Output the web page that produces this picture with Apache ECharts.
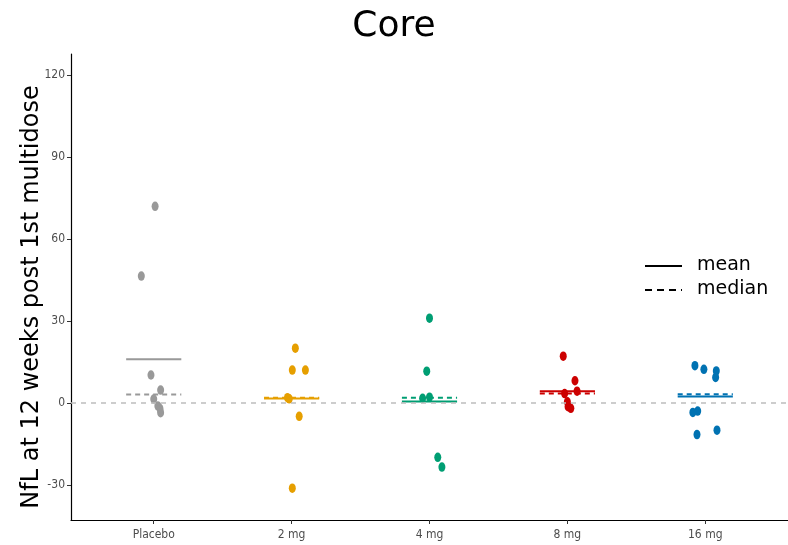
<!DOCTYPE html>
<html><head><meta charset="utf-8">
<script src="https://cdn.jsdelivr.net/npm/echarts@6/dist/echarts.min.js"></script>
<style>html,body{margin:0;padding:0;background:#fff}#c{width:788px;height:545px}</style>
</head><body><div id="c"></div>
<script>
// Dose groups and their colours
const categories = ['Placebo', '2 mg', '4 mg', '8 mg', '16 mg'];
const colors = ['#999999', '#E69F00', '#009E73', '#CC0000', '#0072B2'];

// NfL change values per group, with the horizontal jitter of each point
const placebo  = [72, 46.5, 10.3, 4.8, 1.5, -1, -2, -3.5];
const placeboX = [0.01, -0.09, -0.02, 0.05, 0.0, 0.03, 0.045, 0.05];
const mg2  = [20.1, 12.1, 12.1, 2, 1.6, -4.8, -31.1];
const mg2X = [0.027, 0.005, 0.1, -0.03, -0.017, 0.055, 0.005];
const mg4  = [31.1, 11.7, 2.2, 1.8, -19.8, -23.4];
const mg4X = [0.0, -0.02, 0.0, -0.05, 0.06, 0.09];
const mg8  = [17.2, 8.2, 4.4, 3.5, 0.5, -1.3, -1.9];
const mg8X = [-0.03, 0.055, 0.07, -0.02, 0.0, 0.005, 0.025];
const mg16  = [13.7, 12.4, 11.8, 9.4, -2.9, -3.4, -9.9, -11.5];
const mg16X = [-0.075, -0.01, 0.08, 0.075, -0.055, -0.09, 0.085, -0.06];

const yTicks = [-30, 0, 30, 60, 90, 120];

const groups = [[placebo, placeboX], [mg2, mg2X], [mg4, mg4X], [mg8, mg8X], [mg16, mg16X]];

function mean(a) { return a.reduce((s, v) => s + v, 0) / a.length; }
function median(a) {
  const s = a.slice().sort((p, q) => p - q);
  const m = Math.floor(s.length / 2);
  return s.length % 2 ? s[m] : (s[m - 1] + s[m]) / 2;
}

const summary = groups.map((g, i) => [i, mean(g[0]), median(g[0])]);

const labelFont = {
  fontFamily: "'Liberation Sans Narrow', 'DejaVu Sans Condensed', 'Liberation Sans', sans-serif",
  fontSize: 12, color: '#4D4D4D'
};

const series = [{
  type: 'custom',
  z: 1,
  data: summary,
  renderItem(params, api) {
    const g = api.value(0), mn = api.value(1), md = api.value(2);
    const a = api.coord([g + 1 - 0.2, mn]), b = api.coord([g + 1 + 0.2, mn]);
    const c = api.coord([g + 1 - 0.2, md]), d = api.coord([g + 1 + 0.2, md]);
    const col = colors[g];
    return { type: 'group', children: [
      { type: 'line', shape: { x1: c[0], y1: c[1], x2: d[0], y2: d[1] },
        style: { stroke: col, lineWidth: 2, lineDash: [5, 4] } },
      { type: 'line', shape: { x1: a[0], y1: a[1], x2: b[0], y2: b[1] },
        style: { stroke: col, lineWidth: 2 } }
    ] };
  },
  markLine: {
    silent: true, symbol: 'none', label: { show: false },
    lineStyle: { color: '#BDBDBD', type: [5, 5], width: 1.5 },
    emphasis: { disabled: true },
    data: [{ yAxis: 0 }]
  }
}];

groups.forEach((g, i) => {
  series.push({
    type: 'scatter',
    name: categories[i],
    z: 3,
    symbol: 'circle',
    symbolSize: [7, 9.5],
    itemStyle: { color: colors[i], opacity: 1 },
    data: g[0].map((v, k) => [i + 1 + g[1][k], v])
  });
});

const chart = echarts.init(document.getElementById('c'), null, { renderer: 'canvas' });
chart.setOption({
  animation: false,
  backgroundColor: '#fff',
  grid: { left: 71, right: -6, top: 54, bottom: 25 },
  xAxis: {
    type: 'value', min: 0.4, max: 5.6,
    splitLine: { show: false },
    axisLine: { onZero: false, lineStyle: { color: '#000', width: 1.2 } },
    axisTick: { customValues: [1, 2, 3, 4, 5], length: 4, lineStyle: { color: '#333' } },
    axisLabel: Object.assign({ customValues: [1, 2, 3, 4, 5], margin: 9,
      formatter: v => categories[Math.round(v) - 1] }, labelFont)
  },
  yAxis: {
    type: 'value', min: -42.75, max: 127.75,
    splitLine: { show: false },
    axisLine: { show: true, onZero: false, lineStyle: { color: '#000', width: 1.2 } },
    axisTick: { show: true, customValues: yTicks, length: 4, lineStyle: { color: '#333' } },
    axisLabel: Object.assign({ customValues: yTicks, margin: 6 }, labelFont)
  },
  series,
  graphic: [
    { type: 'text', left: 'center', top: 9,
      style: { text: 'Core', fontFamily: 'DejaVu Sans', fontSize: 36, fill: '#000' } },
    { type: 'text', x: 32, y: 297, rotation: Math.PI / 2,
      style: { text: 'NfL at 12 weeks post 1st multidose', fontFamily: 'DejaVu Sans', fontSize: 24,
        fill: '#000', align: 'center', verticalAlign: 'middle' } },
    { type: 'line', shape: { x1: 645, y1: 266, x2: 682, y2: 266 },
      style: { stroke: '#000', lineWidth: 2 } },
    { type: 'line', shape: { x1: 645, y1: 290, x2: 682, y2: 290 },
      style: { stroke: '#000', lineWidth: 2, lineDash: [7, 5] } },
    { type: 'text', x: 697, y: 265,
      style: { text: 'mean', fontFamily: 'DejaVu Sans', fontSize: 19, fill: '#000', verticalAlign: 'middle' } },
    { type: 'text', x: 697, y: 289,
      style: { text: 'median', fontFamily: 'DejaVu Sans', fontSize: 19, fill: '#000', verticalAlign: 'middle' } }
  ]
});
</script>
</body></html>
